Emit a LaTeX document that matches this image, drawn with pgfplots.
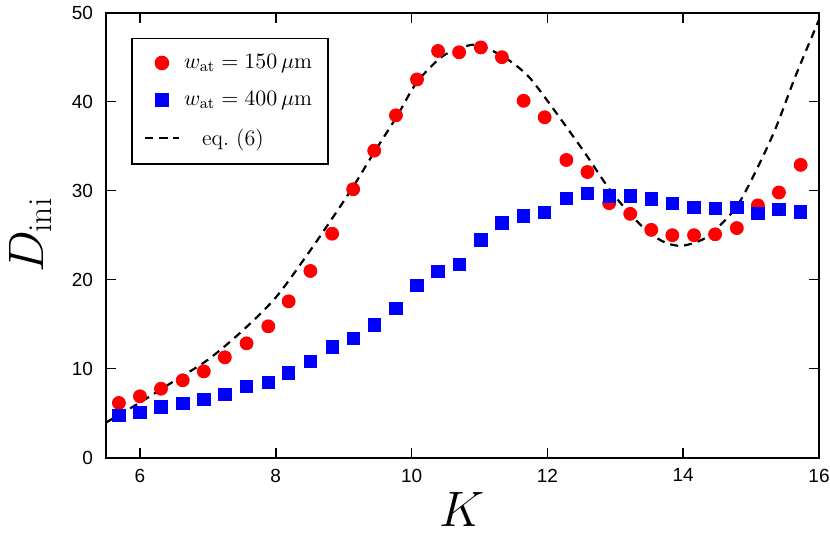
\documentclass[border=0pt]{standalone}
\usepackage{fontspec}
\newfontfamily\arial{Liberation Sans}
\usepackage{pgfplots}
\pgfplotsset{compat=1.18}
\definecolor{myred}{RGB}{255,0,0}
\definecolor{myblue}{RGB}{0,0,255}
\begin{document}
\begin{tikzpicture}
\path[use as bounding box] (-53pt,-41.15pt) rectangle (362pt,228.85pt);
\begin{axis}[
  at={(0,0)}, anchor=south west,
  scale only axis, width=356.5pt, height=222.5pt,
  xmin=5.5, xmax=16, ymin=0, ymax=50,
  xtick={6,8,...,16}, ytick={0,10,...,50},
  tick align=inside, major tick length=5pt,
  tick style={black, line width=0.8pt},
  axis line style={line width=0.9pt},
  ticklabel style={font=\arial\fontsize{9.5}{11}\selectfont},
  yticklabel style={xshift=-3pt},
  xticklabel style={yshift=-2pt},
  /pgf/number format/assume math mode=true,
  xlabel={$K$}, ylabel={$D_{\mathrm{ini}}$},
  label style={font=\fontsize{24}{26}\selectfont},
  xlabel style={at={(axis description cs:0.5,-0.1555)}, anchor=base},
  ylabel style={at={(axis description cs:-0.087,0.5)}, anchor=base, rotate=0},
  legend style={at={(0.035,0.944)}, anchor=north west, draw=black, line width=0.8pt,
    font=\fontsize{11}{13}\selectfont, row sep=6pt, inner xsep=6pt, inner ysep=6pt},
  legend cell align=left,
]
\addplot[only marks, mark=*, mark size=3.25pt, color=myred] coordinates {
(5.69,6.15) (6.00,6.9) (6.31,7.75) (6.63,8.7) (6.94,9.7) (7.25,11.28) (7.57,12.85)
(7.89,14.76) (8.19,17.57) (8.51,20.98) (8.83,25.17) (9.14,30.16) (9.45,34.5) (9.77,38.47)
(10.08,42.5) (10.39,45.7) (10.70,45.55) (11.02,46.1) (11.33,45.0) (11.65,40.1) (11.96,38.25)
(12.28,33.45) (12.59,32.1) (12.91,28.6) (13.22,27.4) (13.53,25.6) (13.84,25.0) (14.16,25.0)
(14.47,25.1) (14.79,25.8) (15.10,28.35) (15.41,29.8) (15.73,32.9)
};
\addlegendentry{$w_{\mathrm{at}} = 150\,\mu\mathrm{m}$}
\addplot[only marks, mark=square*, mark size=3.1pt, color=myblue] coordinates {
(5.69,4.76) (6.00,5.1) (6.31,5.7) (6.63,6.07) (6.94,6.56) (7.25,7.12) (7.57,8.02)
(7.89,8.47) (8.19,9.52) (8.51,10.79) (8.83,12.47) (9.14,13.41) (9.45,14.91) (9.77,16.79)
(10.08,19.33) (10.39,20.9) (10.70,21.73) (11.02,24.45) (11.33,26.4) (11.65,27.16) (11.96,27.53)
(12.28,29.15) (12.59,29.7) (12.91,29.4) (13.22,29.4) (13.53,29.1) (13.84,28.54) (14.16,28.09)
(14.47,27.98) (14.79,28.13) (15.10,27.42) (15.41,27.87) (15.73,27.6)
};
\addlegendentry{$w_{\mathrm{at}} = 400\,\mu\mathrm{m}$}
\addplot[black, line width=1.1pt, dash pattern=on 4pt off 3pt, smooth] coordinates {
(5.5,3.95) (6.0,6.2) (6.5,8.6) (7.0,11.0) (7.5,14.2) (8.0,18.0) (8.5,23.2)
(8.85,27.1) (9.14,30.45) (9.44,34.2) (9.78,38.3) (10.07,42.1) (10.42,44.9) (10.67,45.9)
(10.95,46.4) (11.30,45.3) (11.55,44.0) (11.75,42.6) (12.03,39.8) (12.52,34.6) (12.96,29.7)
(13.40,25.95) (13.70,24.3) (13.95,23.8) (14.18,24.2) (14.40,25.1) (14.82,28.6) (15.31,36.1)
(15.65,42.8) (15.95,48.3) (16.0,49.2)
};
\addlegendentry{\hspace*{9pt}eq.~(6)}
\end{axis}
\end{tikzpicture}
\end{document}
